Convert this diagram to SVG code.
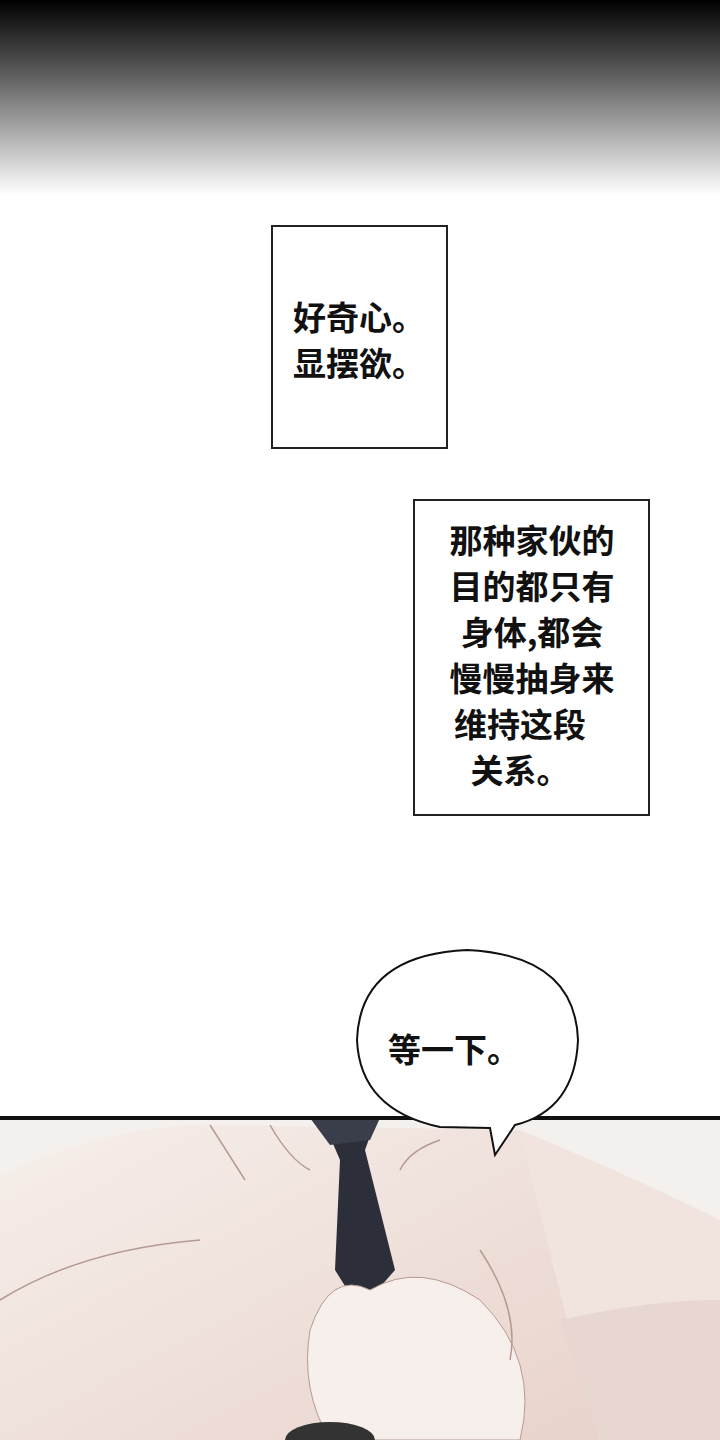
<svg xmlns="http://www.w3.org/2000/svg" width="720" height="1440" viewBox="0 0 720 1440">
<defs>
<linearGradient id="top" x1="0" y1="0" x2="0" y2="1"><stop offset="0" stop-color="#000"/><stop offset="0.35" stop-color="#555"/><stop offset="1" stop-color="#fff"/></linearGradient>
<linearGradient id="skin" x1="0" y1="0" x2="1" y2="1"><stop offset="0" stop-color="#f6efea"/><stop offset="1" stop-color="#e9d3cc"/></linearGradient>
<style>
.box{fill:#fff;stroke:#222;stroke-width:2}
.t{font-family:"Noto Sans CJK SC","Noto Sans",sans-serif;font-size:33px;font-weight:bold;fill:#111}
.ln{fill:none;stroke:#b59a92;stroke-width:1.5}
</style>
</defs>
<rect width="720" height="1440" fill="#fff"/>
<rect width="720" height="195" fill="url(#top)"/>
<g id="panel">
<rect x="0" y="1118" width="720" height="322" fill="#f4f0ed"/>
<path d="M0 1175 Q120 1120 230 1125 L520 1130 Q560 1200 600 1440 L0 1440Z" fill="url(#skin)"/>
<path d="M520 1130 Q640 1180 720 1220 L720 1440 L600 1440 Q560 1300 520 1130Z" fill="#f1e3de"/>
<path d="M560 1320 Q650 1300 720 1300 L720 1440 L600 1440Z" fill="#e8d6d0"/>
<path d="M325 1125 L375 1122 L365 1150 L395 1270 L360 1310 L335 1270 L340 1160Z" fill="#2c2f3a"/>
<path d="M310 1118 L380 1118 L370 1140 L330 1145Z" fill="#3a3d4a"/>
<path d="M310 1330 Q330 1270 370 1290 Q420 1260 480 1300 Q540 1360 520 1440 L330 1440 Q300 1390 310 1330Z" fill="#f7efeb" stroke="#b59a92"/>
<path class="ln" d="M210 1125 L245 1180 M270 1125 Q290 1160 310 1170 M400 1170 Q410 1150 440 1140 M480 1250 Q520 1310 510 1360 M0 1300 Q80 1250 200 1240"/>
<ellipse cx="330" cy="1440" rx="45" ry="18" fill="#333"/>
<rect x="0" y="1116" width="720" height="4" fill="#111"/>
</g>
<g id="box1"><rect class="box" x="272" y="226" width="175" height="222"/>
<text class="t" x="293" y="330">好奇心。</text><text class="t" x="293" y="376">显摆欲。</text></g>
<g id="box2"><rect class="box" x="414" y="500" width="235" height="315"/>
<g class="t" text-anchor="middle">
<text x="532" y="553">那种家伙的</text><text x="532" y="599">目的都只有</text><text x="532" y="645">身体,都会</text><text x="532" y="691">慢慢抽身来</text><text x="520" y="737">维持这段</text><text x="520" y="783">关系。</text></g></g>
<g id="bubble">
<path d="M440 1127 Q360 1110 357 1040 Q360 955 467 950 Q575 955 578 1040 Q575 1110 515 1125 L495 1155 L490 1128Z" fill="#fff" stroke="#111" stroke-width="2"/>
<text class="t" x="388" y="1062">等一下。</text></g>
<g id="connectors"/>
</svg>
